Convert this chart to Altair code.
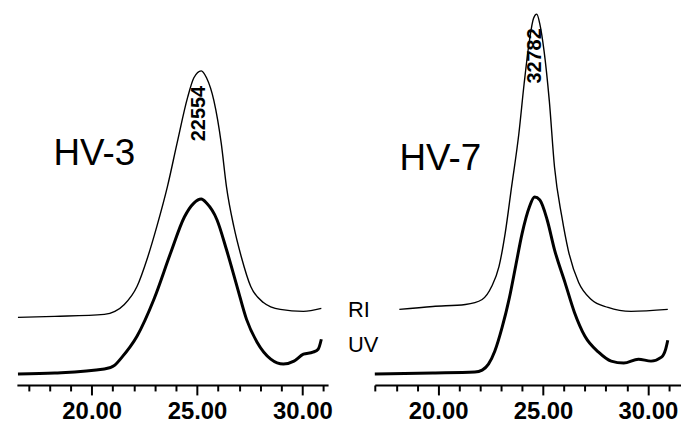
import altair as alt
import pandas as pd

# ---------------- data (retention time in min, detector response, arbitrary units) -------------
hv3_ri_t = [16.5, 18.25, 20.6, 21.1, 21.55, 22.15, 22.65, 23.1, 23.6, 24.05, 24.55, 24.85,
            25.2, 25.45, 25.8, 26.15, 26.4, 26.75, 27.1, 27.55, 28.15, 28.95, 30.05, 30.9]
hv3_ri = [68, 69, 71, 74, 81, 99, 128, 160, 200, 243, 289, 309,
          316, 309, 286, 243, 199, 159, 129, 99, 83, 76, 74, 77]

hv3_uv_t = [16.5, 18.25, 20.6, 21.1, 21.4, 22.15, 22.95, 23.75, 24.4, 24.85, 25.2, 25.45,
            25.95, 26.4, 26.9, 27.35, 27.85, 28.5, 29.1, 29.6, 30.05, 30.5, 30.75, 30.9]
hv3_uv = [11, 12, 16, 20, 27, 49, 86, 133, 169, 183, 187, 183,
          166, 136, 99, 66, 43, 26, 21, 24, 31, 33, 36, 46]

hv7_ri_t = [18.15, 19.75, 21.3, 22.1, 22.55, 22.9, 23.2, 23.5, 23.85, 24.1, 24.35, 24.55,
            24.7, 24.85, 25.05, 25.3, 25.55, 25.9, 26.2, 26.7, 27.3, 28.1, 29.2, 30.95]
hv7_ri = [76, 79, 81, 86, 99, 119, 153, 199, 253, 303, 346, 369,
          373, 363, 336, 286, 219, 169, 136, 103, 86, 78, 74, 76]

hv7_uv_t = [16.98, 19.75, 21.75, 22.1, 22.4, 22.7, 23.05, 23.4, 23.7, 24.0, 24.35, 24.6,
            24.85, 25.2, 25.55, 26.05, 26.5, 27.0, 27.65, 28.25, 28.85, 29.55, 30.15, 30.65,
            30.85, 30.95]
hv7_uv = [11, 12, 13, 15, 21, 34, 58, 88, 120, 152, 179, 189,
          186, 166, 136, 103, 73, 49, 33, 24, 22, 26, 24, 28,
          36, 45]

sample_names = ["HV-3", "HV-7"]
sample_name_t = [20.13, 20.11]
sample_name_v = [221, 216]

peak_labels = ["22554", "32782"]
peak_label_t = [25.09, 24.61]
peak_label_v = [273, 331]

detector_names = ["RI", "UV"]
detector_t = [32.17, 32.17]
detector_v = [68, 33]

tick_values = list(range(17, 32))

x_domains = [[16.45, 31.22], [16.98, 31.58]]
panel_widths = [313, 308]
y_domain = [0, 381]
H = 381

FONT = "Liberation Sans"


def xenc(domain):
    return alt.X(
        "t:Q",
        scale=alt.Scale(domain=domain, nice=False, zero=False),
        axis=alt.Axis(
            values=tick_values,
            labelExpr="datum.value % 5 === 0 ? format(datum.value, '.2f') : ''",
            title=None,
            grid=False,
            domainColor="black",
            domainWidth=2,
            tickColor="black",
            tickWidth=2,
            tickSize={"condition": {"test": "datum.value % 5 === 0", "value": 10}, "value": 6},
            labelFont="Liberation Sans",
            labelFontWeight="bold",
            labelFontSize=24,
            labelColor="black",
            labelPadding=5,
            labelOverlap=False,
            labelFlush=False,
        ),
    )


yenc = alt.Y("v:Q", scale=alt.Scale(domain=y_domain, nice=False, zero=False), axis=None)


def panel(i, ri_t, ri, uv_t, uv, with_detectors):
    dom = x_domains[i]
    ri_df = pd.DataFrame({"t": ri_t, "v": ri})
    uv_df = pd.DataFrame({"t": uv_t, "v": uv})
    ri_line = alt.Chart(ri_df).mark_line(color="black", strokeWidth=1.4, interpolate="monotone").encode(
        x=xenc(dom), y=yenc)
    uv_line = alt.Chart(uv_df).mark_line(color="black", strokeWidth=3, interpolate="monotone").encode(
        x=xenc(dom), y=yenc)
    name_df = pd.DataFrame({"t": [sample_name_t[i]], "v": [sample_name_v[i]], "label": [sample_names[i]]})
    name = alt.Chart(name_df).mark_text(font=FONT, fontSize=37, align="center", baseline="alphabetic",
                                        color="black").encode(x=xenc(dom), y=yenc, text="label:N")
    pk_df = pd.DataFrame({"t": [peak_label_t[i]], "v": [peak_label_v[i]], "label": [peak_labels[i]]})
    pk = alt.Chart(pk_df).mark_text(font="Liberation Sans", fontSize=20, fontWeight="bold", angle=270,
                                    align="center", baseline="middle", color="black").encode(
        x=xenc(dom), y=yenc, text="label:N")
    layers = [ri_line, uv_line, name, pk]
    if with_detectors:
        det_df = pd.DataFrame({"t": detector_t, "v": detector_v, "label": detector_names})
        det = alt.Chart(det_df).mark_text(font=FONT, fontSize=22, align="left", baseline="alphabetic",
                                          color="black").encode(x=xenc(dom), y=yenc, text="label:N")
        layers.append(det)
    return alt.layer(*layers).properties(width=panel_widths[i], height=H)


left = panel(0, hv3_ri_t, hv3_ri, hv3_uv_t, hv3_uv, True)
right = panel(1, hv7_ri_t, hv7_ri, hv7_uv_t, hv7_uv, False)

chart = alt.hconcat(left, right, spacing=47, bounds="flush").properties(
    padding={"left": 12, "top": 5, "right": 0, "bottom": 0},
    background="white",
).configure_view(stroke=None)

chart.save("out.html", embed_options={"renderer": "svg", "actions": False})
